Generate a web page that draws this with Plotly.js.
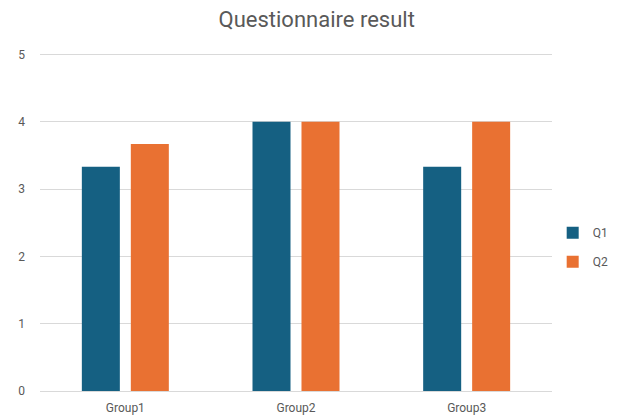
<!DOCTYPE html>
<html>
<head>
<meta charset="utf-8">
<script src="https://cdn.plot.ly/plotly-3.0.1.min.js"></script>
<style>html,body{margin:0;padding:0;background:#fff;}#chart{width:621px;height:419px;}</style>
</head>
<body>
<div id="chart"></div>
<script>
const categories = ["Group1", "Group2", "Group3"];
const q1Values = [3.33, 4, 3.33];
const q2Values = [3.67, 4, 4];
const seriesNames = ["Q1", "Q2"];
const yTicks = [0, 1, 2, 3, 4, 5];

const fontFam = "'Liberation Sans Narrow', 'Roboto', 'Liberation Sans', sans-serif";
const data = [
  {type: "bar", name: seriesNames[0], legendgroup: "a", x: categories, y: q1Values, marker: {color: "#156082"}, hoverinfo: "none"},
  {type: "bar", name: seriesNames[1], legendgroup: "b", x: categories, y: q2Values, marker: {color: "#E97132"}, hoverinfo: "none"}
];
const layout = {
  width: 621, height: 419,
  margin: {l: 40, r: 69, t: 53, b: 28},
  paper_bgcolor: "#fff", plot_bgcolor: "#fff",
  font: {family: fontFam, color: "#595959", size: 12},
  title: {text: "Questionnaire result", x: 0.51, xanchor: "center", y: 0.953, yanchor: "middle",
          font: {family: "'Roboto', sans-serif", size: 22, color: "#595959"}},
  barmode: "group",
  bargap: 0.426,
  bargroupgap: 0.224,
  xaxis: {showgrid: false, showline: true, linecolor: "#d9d9d9", linewidth: 1, ticks: "",
          tickfont: {size: 12, color: "#595959"}, ticklabelstandoff: 6},
  yaxis: {range: [0, 5.02], tickvals: yTicks, showgrid: true, gridcolor: "#d9d9d9", gridwidth: 1,
          zeroline: false, showline: false, ticks: "", ticklabelstandoff: 14,
          tickfont: {size: 12, color: "#595959"}},
  legend: {xref: "container", yref: "container", x: 0.89, xanchor: "left", y: 0.41, yanchor: "middle",
           font: {size: 12, color: "#595959"}, itemwidth: 30, traceorder: "grouped", tracegroupgap: 10},
  showlegend: true
};
Plotly.newPlot("chart", data, layout, {displayModeBar: false, staticPlot: true});
</script>
</body>
</html>
